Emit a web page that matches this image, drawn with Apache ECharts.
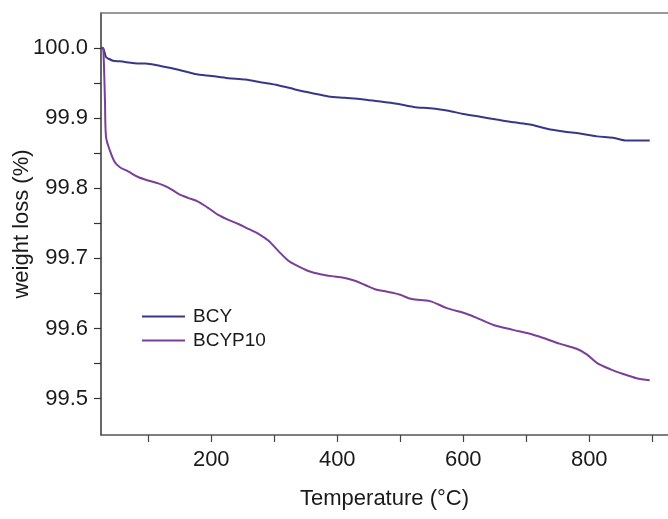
<!DOCTYPE html>
<html>
<head>
<meta charset="utf-8">
<script src="https://cdn.jsdelivr.net/npm/echarts@6/dist/echarts.min.js"></script>
<style>
html,body{margin:0;padding:0;background:#fff;}
#chart{width:668px;height:519px;}
</style>
</head>
<body>
<div id="chart"></div>
<script>
// Data (temperature in °C, weight in %)
var bcyTemp = [25, 28.7, 33, 36.6, 44, 55, 87, 95, 121, 148, 174, 201, 227, 254, 280, 306, 333, 359, 386, 412, 439, 465, 492, 521, 547, 574, 600, 627, 653, 680, 706, 733, 759, 785, 812, 838, 859, 880, 896];
var bcyWeight = [100.0, 99.999, 99.987, 99.985, 99.982, 99.981, 99.978, 99.978, 99.974, 99.969, 99.963, 99.960, 99.957, 99.955, 99.951, 99.947, 99.941, 99.936, 99.931, 99.929, 99.927, 99.924, 99.921, 99.916, 99.914, 99.911, 99.906, 99.902, 99.898, 99.894, 99.891, 99.885, 99.881, 99.878, 99.874, 99.872, 99.868, 99.868, 99.868];

var bcyp10Temp = [27, 28.7, 31.3, 33, 39, 47, 55, 68, 84, 100, 116, 132, 148, 164, 179, 195, 211, 227, 243, 259, 275, 291, 306, 322, 333, 354, 375, 396, 412, 428, 444, 460, 476, 492, 500, 518, 547, 574, 605, 627, 648, 679, 711, 732, 754, 780, 796, 812, 833, 854, 875, 896];
var bcyp10Weight = [100.001, 99.999, 99.925, 99.873, 99.854, 99.837, 99.830, 99.824, 99.816, 99.811, 99.807, 99.801, 99.792, 99.786, 99.781, 99.772, 99.762, 99.755, 99.749, 99.742, 99.735, 99.725, 99.711, 99.697, 99.691, 99.682, 99.677, 99.674, 99.672, 99.668, 99.662, 99.656, 99.653, 99.650, 99.648, 99.642, 99.639, 99.629, 99.621, 99.613, 99.605, 99.598, 99.591, 99.585, 99.578, 99.571, 99.563, 99.551, 99.542, 99.535, 99.529, 99.526];

var seriesNames = ['BCY', 'BCYP10'];
var xTickValues = [100, 200, 300, 400, 500, 600, 700, 800, 900];
var xLabelValues = [200, 400, 600, 800];
var yTickValues = [99.5, 99.55, 99.6, 99.65, 99.7, 99.75, 99.8, 99.85, 99.9, 99.95, 100.0];
var yLabelValues = [99.5, 99.6, 99.7, 99.8, 99.9, 100.0];

function pairs(xs, ys) {
  var out = [];
  for (var i = 0; i < xs.length; i++) out.push([xs[i], ys[i]]);
  return out;
}

var font = 'Liberation Sans, Arial, sans-serif';
var chart = echarts.init(document.getElementById('chart'), null, {renderer: 'canvas'});
chart.setOption({
  animation: false,
  backgroundColor: '#ffffff',
  grid: {left: 101, right: 0, top: 13, bottom: 84, containLabel: false, outerBoundsMode: 'none'},
  legend: {
    orient: 'vertical',
    left: 142,
    top: 307,
    padding: 0,
    icon: 'rect',
    itemWidth: 43,
    itemHeight: 2,
    itemGap: 5,
    textStyle: {fontFamily: font, fontSize: 19, color: '#1a1a1a', padding: [0, 0, 0, 3]},
    data: seriesNames
  },
  xAxis: [{
    type: 'value',
    min: 25,
    max: 925,
    name: 'Temperature (°C)',
    nameLocation: 'middle',
    nameGap: 53,
    nameMoveOverlap: false,
    nameTextStyle: {fontFamily: font, fontSize: 22, color: '#1a1a1a'},
    axisLine: {show: true, lineStyle: {color: '#555', width: 1.5}},
    axisTick: {show: true, inside: false, length: 7, lineStyle: {color: '#444', width: 1.2}, customValues: xTickValues},
    axisLabel: {show: true, margin: 14, fontFamily: font, fontSize: 22, color: '#1a1a1a', customValues: xLabelValues},
    splitLine: {show: false}
  }, {
    type: 'value',
    position: 'top',
    min: 25,
    max: 925,
    axisLine: {show: true, lineStyle: {color: '#777', width: 1.5}},
    axisTick: {show: false},
    axisLabel: {show: false},
    splitLine: {show: false}
  }],
  yAxis: {
    type: 'value',
    min: 99.448,
    max: 100.05,
    name: 'weight loss (%)',
    nameLocation: 'middle',
    nameGap: 68,
    nameMoveOverlap: false,
    nameTextStyle: {fontFamily: font, fontSize: 22, color: '#1a1a1a'},
    axisLine: {show: true, lineStyle: {color: '#333', width: 1.5}},
    axisTick: {show: true, inside: false, length: 7, lineStyle: {color: '#333', width: 1.2}, customValues: yTickValues},
    axisLabel: {show: true, margin: 13, fontFamily: font, fontSize: 22, color: '#1a1a1a', customValues: yLabelValues,
      formatter: function (v) { return v.toFixed(1); }},
    splitLine: {show: false}
  },
  series: [{
    name: seriesNames[0],
    type: 'line',
    xAxisIndex: 0,
    showSymbol: false,
    symbol: 'none',
    smooth: 0.3,
    data: pairs(bcyTemp, bcyWeight),
    lineStyle: {color: '#37378a', width: 2},
    itemStyle: {color: '#37378a'}
  }, {
    name: seriesNames[1],
    type: 'line',
    xAxisIndex: 0,
    showSymbol: false,
    symbol: 'none',
    smooth: 0.3,
    data: pairs(bcyp10Temp, bcyp10Weight),
    lineStyle: {color: '#7a3f98', width: 2},
    itemStyle: {color: '#7a3f98'}
  }]
});
</script>
</body>
</html>
